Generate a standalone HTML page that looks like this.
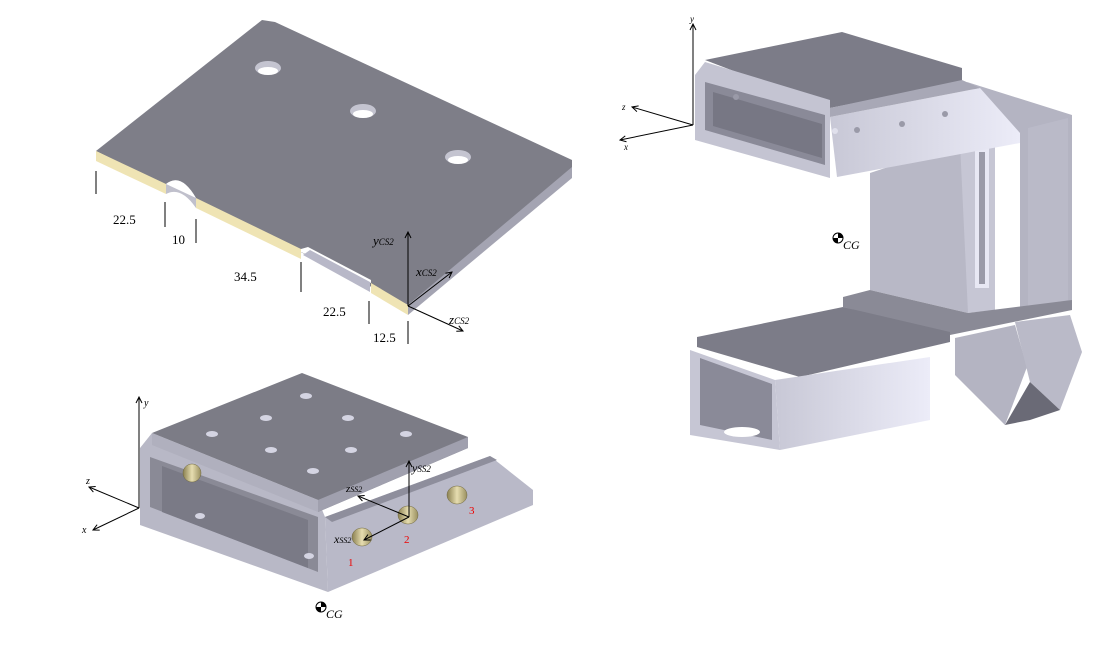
<!DOCTYPE html>
<html><head><meta charset="utf-8"><style>
html,body{margin:0;padding:0;background:#fff;width:1117px;height:645px;overflow:hidden}
svg{display:block}
text{font-family:"Liberation Serif",serif;font-style:italic}
.n{font-style:normal}
</style></head><body>
<svg width="1117" height="645" viewBox="0 0 1117 645" xmlns="http://www.w3.org/2000/svg">
<defs>
<marker id="a" markerWidth="8" markerHeight="8" refX="7" refY="4" orient="auto" markerUnits="userSpaceOnUse"><path d="M1,1 L7,4 L1,7" fill="none" stroke="#000" stroke-width="1"/></marker>
<linearGradient id="lg" x1="0" x2="1"><stop offset="0" stop-color="#c8c8d6"/><stop offset="1" stop-color="#ececf8"/></linearGradient>
<linearGradient id="gold" x1="0" x2="1"><stop offset="0" stop-color="#8a8050"/><stop offset=".5" stop-color="#e6ddb0"/><stop offset="1" stop-color="#9a9060"/></linearGradient>
</defs>

<!-- ===== Top-left plate ===== -->
<polygon points="96,151 262,20 275,22 572,160 572,172 408,305" fill="#7e7e88"/>
<!-- right side edge -->
<polygon points="408,305 572,167 572,178 408,315" fill="#a4a4b2"/>
<!-- front yellow edge -->
<polygon points="96,151 166,184 166,194 96,161" fill="#efe4b4"/>
<polygon points="196,198 301,249 301,259 196,208" fill="#efe4b4"/>
<polygon points="371,283 408,305 408,315 371,293" fill="#efe4b4"/>
<!-- notch -->
<path d="M166,184 Q181,172 196,198 L196,208 Q181,186 166,194 Z" fill="#c0c0cc"/>
<path d="M166,184 Q181,172 196,198 Z" fill="#fff"/>
<polygon points="301,249 308,247 371,280 371,283 301,252" fill="#fff"/>
<polygon points="303,255 310,250 370,282 370,292" fill="#b8b8c8"/>
<!-- holes -->
<ellipse cx="268" cy="68" rx="13" ry="7" fill="#c4c4d0"/><ellipse cx="268" cy="71" rx="10" ry="4" fill="#fff"/>
<ellipse cx="363" cy="111" rx="13" ry="7" fill="#c4c4d0"/><ellipse cx="363" cy="114" rx="10" ry="4" fill="#fff"/>
<ellipse cx="458" cy="157" rx="13" ry="7" fill="#c4c4d0"/><ellipse cx="458" cy="160" rx="10" ry="4" fill="#fff"/>
<!-- dimension ticks -->
<g stroke="#000" stroke-width="1">
<line x1="96" y1="171" x2="96" y2="194"/><line x1="165" y1="202" x2="165" y2="227"/>
<line x1="196" y1="219" x2="196" y2="243"/><line x1="301" y1="262" x2="301" y2="292"/>
<line x1="369" y1="301" x2="369" y2="324"/><line x1="408" y1="321" x2="408" y2="344"/>
</g>
<g font-size="13" class="n">
<text class="n" x="113" y="224">22.5</text><text class="n" x="172" y="244">10</text>
<text class="n" x="234" y="281">34.5</text><text class="n" x="323" y="316">22.5</text>
<text class="n" x="373" y="342">12.5</text>
</g>
<g stroke="#000" stroke-width="1" fill="none">
<line x1="408" y1="306" x2="408" y2="232" marker-end="url(#a)"/>
<line x1="408" y1="306" x2="452" y2="272" marker-end="url(#a)"/>
<line x1="408" y1="306" x2="463" y2="331" marker-end="url(#a)"/>
</g>
<text x="373" y="245" font-size="13">y<tspan font-size="9">CS2</tspan></text>
<text x="416" y="276" font-size="13">x<tspan font-size="9">CS2</tspan></text>
<text x="449" y="324" font-size="13">z<tspan font-size="9">CS2</tspan></text>

<!-- ===== Bottom-left part ===== -->
<polygon points="140,448 152,433 318,500 325,517 328,592 140,525" fill="#b8b8c6"/>
<polygon points="150,457 318,517 318,572 150,507" fill="#8a8a96"/>
<polygon points="162,466 308,520 308,568 162,512" fill="#7a7a86"/>
<polygon points="325,517 490,456 533,490 533,505 328,592" fill="#b9b9c8"/>
<polygon points="325,517 490,456 497,460 332,522" fill="#8e8e9c"/>
<polygon points="152,433 302,373 468,437 468,448 318,512 318,500" fill="#7c7c86"/>
<polygon points="152,433 318,500 318,512 152,445" fill="#b0b0be"/>
<polygon points="318,500 468,437 468,448 318,512" fill="#a0a0ae"/>
<g fill="#d4d4e2">
<ellipse cx="306" cy="396" rx="6" ry="3"/><ellipse cx="266" cy="418" rx="6" ry="3"/><ellipse cx="348" cy="418" rx="6" ry="3"/>
<ellipse cx="212" cy="434" rx="6" ry="3"/><ellipse cx="271" cy="450" rx="6" ry="3"/><ellipse cx="351" cy="450" rx="6" ry="3"/>
<ellipse cx="406" cy="434" rx="6" ry="3"/><ellipse cx="313" cy="471" rx="6" ry="3"/><ellipse cx="200" cy="516" rx="5" ry="3"/>
<ellipse cx="309" cy="556" rx="5" ry="3"/>
</g>
<g fill="url(#gold)" stroke="#6e6640" stroke-width=".5">
<ellipse cx="192" cy="473" rx="9" ry="9"/><ellipse cx="362" cy="537" rx="10" ry="9"/>
<ellipse cx="408" cy="515" rx="10" ry="9"/><ellipse cx="457" cy="495" rx="10" ry="9"/>
</g>
<g stroke="#000" stroke-width="1" fill="none">
<line x1="139" y1="508" x2="139" y2="397" marker-end="url(#a)"/>
<line x1="139" y1="508" x2="89" y2="487" marker-end="url(#a)"/>
<line x1="139" y1="508" x2="93" y2="530" marker-end="url(#a)"/>
<line x1="409" y1="517" x2="409" y2="461" marker-end="url(#a)"/>
<line x1="409" y1="517" x2="358" y2="496" marker-end="url(#a)"/>
<line x1="409" y1="517" x2="364" y2="540" marker-end="url(#a)"/>
</g>
<text x="144" y="406" font-size="10">y</text><text x="86" y="484" font-size="10">z</text><text x="82" y="533" font-size="10">x</text>
<text x="412" y="472" font-size="12">y<tspan font-size="9">SS2</tspan></text>
<text x="346" y="492" font-size="11">z<tspan font-size="8">SS2</tspan></text>
<text x="334" y="543" font-size="12">x<tspan font-size="8">SS2</tspan></text>
<text class="n" x="348" y="566" font-size="11" fill="#e00">1</text>
<text class="n" x="404" y="543" font-size="11" fill="#e00">2</text>
<text class="n" x="469" y="514" font-size="11" fill="#e00">3</text>
<circle cx="321" cy="607" r="5" fill="#fff" stroke="#000"/><path d="M321,602 A5,5 0 0 1 326,607 L321,607 Z M321,612 A5,5 0 0 1 316,607 L321,607 Z" fill="#000"/>
<text x="326" y="618" font-size="12">CG</text>

<!-- ===== Right assembly ===== -->
<!-- back right box -->
<polygon points="967,82 1072,115 1072,303 1020,313 1020,140" fill="#b4b4c2"/>
<polygon points="1028,128 1068,118 1068,300 1028,308" fill="#babac8"/>
<!-- vertical centre plate -->
<polygon points="870,173 960,143 968,143 968,313 870,290" fill="#b8b8c6"/>
<polygon points="960,143 995,140 995,310 968,313" fill="#c6c6d4"/>
<rect x="975" y="148" width="14" height="140" fill="#e8e8f4"/>
<rect x="979" y="152" width="6" height="132" fill="#9a9aa8"/>
<!-- upper box -->
<polygon points="705,60 842,32 962,68 962,82 830,108" fill="#7c7c88"/>
<polygon points="695,75 705,62 830,100 830,178 695,140" fill="#c4c4d2"/>
<polygon points="705,82 825,115 825,165 705,130" fill="#8a8a98"/>
<polygon points="713,92 822,124 822,158 713,126" fill="#777784"/>
<polygon points="830,117 980,88 1020,133 1020,143 837,177" fill="url(#lg)"/>
<polygon points="830,108 962,80 980,88 830,117" fill="#a8a8b6"/>
<!-- middle shelf -->
<polygon points="843,297 870,290 968,313 1072,300 1072,310 950,335 843,307" fill="#8a8a96"/>
<!-- lower box -->
<polygon points="697,337 843,307 950,332 950,342 800,377 697,347" fill="#7c7c88"/>
<polygon points="690,350 775,380 780,450 690,435" fill="#c6c6d4"/>
<polygon points="700,358 772,384 772,440 700,425" fill="#8a8a98"/>
<polygon points="775,380 930,357 930,420 780,450" fill="url(#lg)"/>
<ellipse cx="742" cy="432" rx="18" ry="5" fill="#fff"/>
<!-- right brackets -->
<polygon points="955,338 1015,325 1027,367 1005,425 955,375" fill="#b4b4c2"/>
<polygon points="1015,322 1070,315 1082,352 1060,410 1030,382" fill="#babac8"/>
<polygon points="1005,425 1030,382 1060,410 1030,420" fill="#6a6a76"/>
<g fill="#e0e0ec">
<circle cx="835" cy="131" r="3"/><circle cx="857" cy="130" r="3" fill="#9a9aa8"/><circle cx="902" cy="124" r="3" fill="#9a9aa8"/><circle cx="945" cy="114" r="3" fill="#9a9aa8"/><circle cx="736" cy="97" r="3" fill="#9a9aa8"/>
</g>
<g stroke="#000" stroke-width="1" fill="none">
<line x1="693" y1="125" x2="693" y2="24" marker-end="url(#a)"/>
<line x1="693" y1="125" x2="632" y2="107" marker-end="url(#a)"/>
<line x1="693" y1="125" x2="620" y2="140" marker-end="url(#a)"/>
</g>
<text x="690" y="22" font-size="9">y</text><text x="622" y="110" font-size="9">z</text><text x="624" y="150" font-size="9">x</text>
<circle cx="838" cy="238" r="5" fill="#fff" stroke="#000"/><path d="M838,233 A5,5 0 0 1 843,238 L838,238 Z M838,243 A5,5 0 0 1 833,238 L838,238 Z" fill="#000"/>
<text x="843" y="249" font-size="12">CG</text>
</svg>
</body></html>
